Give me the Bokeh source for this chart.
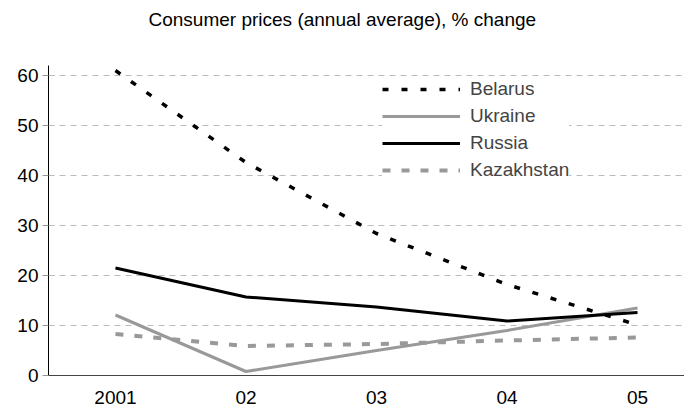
from bokeh.plotting import figure
from bokeh.models import Legend, LegendItem, FixedTicker, Title, Range1d
from bokeh.embed import file_html
from bokeh.resources import INLINE

years = ["2001", "02", "03", "04", "05"]
belarus = [61.0, 42.6, 28.4, 18.2, 10.1]
ukraine = [12.1, 0.8, 5.0, 9.0, 13.5]
russia = [21.5, 15.7, 13.7, 10.9, 12.6]
kazakhstan = [8.3, 5.9, 6.3, 7.0, 7.6]
y_ticks = [0, 10, 20, 30, 40, 50, 60]
title_text = "Consumer prices (annual average), % change"

xs = list(range(len(years)))
FONT = "Liberation Sans"

p = figure(width=684, height=408, output_backend="svg", toolbar_location=None,
           x_range=Range1d(-0.513, 4.36), y_range=Range1d(0, 62),
           min_border_left=48, min_border_right=0, min_border_bottom=33, min_border_top=65)
p.title = Title(text=title_text, align="left",
                text_font=FONT, text_font_size="19px", text_font_style="normal",
                text_color="#000000", offset=100, standoff=0)
# invisible spacer between title and plot frame
p.add_layout(Title(text=" ", text_font=FONT, text_font_size="19px", standoff=13), "above")
p.outline_line_color = None
p.background_fill_color = "white"

r_bel = p.line(xs, belarus, line_color="black", line_width=3.5, line_dash="6 13")
r_ukr = p.line(xs, ukraine, line_color="#999999", line_width=3)
r_rus = p.line(xs, russia, line_color="black", line_width=3)
r_kaz = p.line(xs, kazakhstan, line_color="#999999", line_width=4, line_dash="8 11")

p.xaxis.ticker = FixedTicker(ticks=xs)
p.xaxis.major_label_overrides = {i: y for i, y in enumerate(years)}
p.yaxis.ticker = FixedTicker(ticks=y_ticks)
for ax in (p.xaxis, p.yaxis):
    ax.major_label_text_font = FONT
    ax.major_label_text_font_size = "19px"
    ax.major_label_text_color = "#000000"
    ax.minor_tick_line_color = None
p.xaxis.major_tick_line_color = None
p.xaxis.axis_line_color = "#444444"
p.xaxis.major_label_standoff = 9
p.yaxis.axis_line_color = "black"
p.yaxis.major_tick_line_color = "#999999"
p.yaxis.major_tick_out = 6
p.yaxis.major_tick_in = 0
p.yaxis.major_label_standoff = 4

p.xgrid.grid_line_color = None
p.ygrid.grid_line_color = "#bbbbbb"
p.ygrid.grid_line_dash = "6 5"
p.ygrid.grid_line_width = 1

legend = Legend(items=[
    LegendItem(label="Belarus", renderers=[r_bel]),
    LegendItem(label="Ukraine", renderers=[r_ukr]),
    LegendItem(label="Russia", renderers=[r_rus]),
    LegendItem(label="Kazakhstan", renderers=[r_kaz]),
], location=(334, 194))
legend.border_line_color = None
legend.background_fill_color = "white"
legend.background_fill_alpha = 1
legend.label_text_font = FONT
legend.label_text_font_size = "19px"
legend.glyph_width = 78
legend.glyph_height = 20
legend.label_height = 20
legend.spacing = 5
legend.padding = 12
legend.margin = 0
legend.label_standoff = 10
p.add_layout(legend)

open("out.html", "w").write(file_html(p, INLINE))
